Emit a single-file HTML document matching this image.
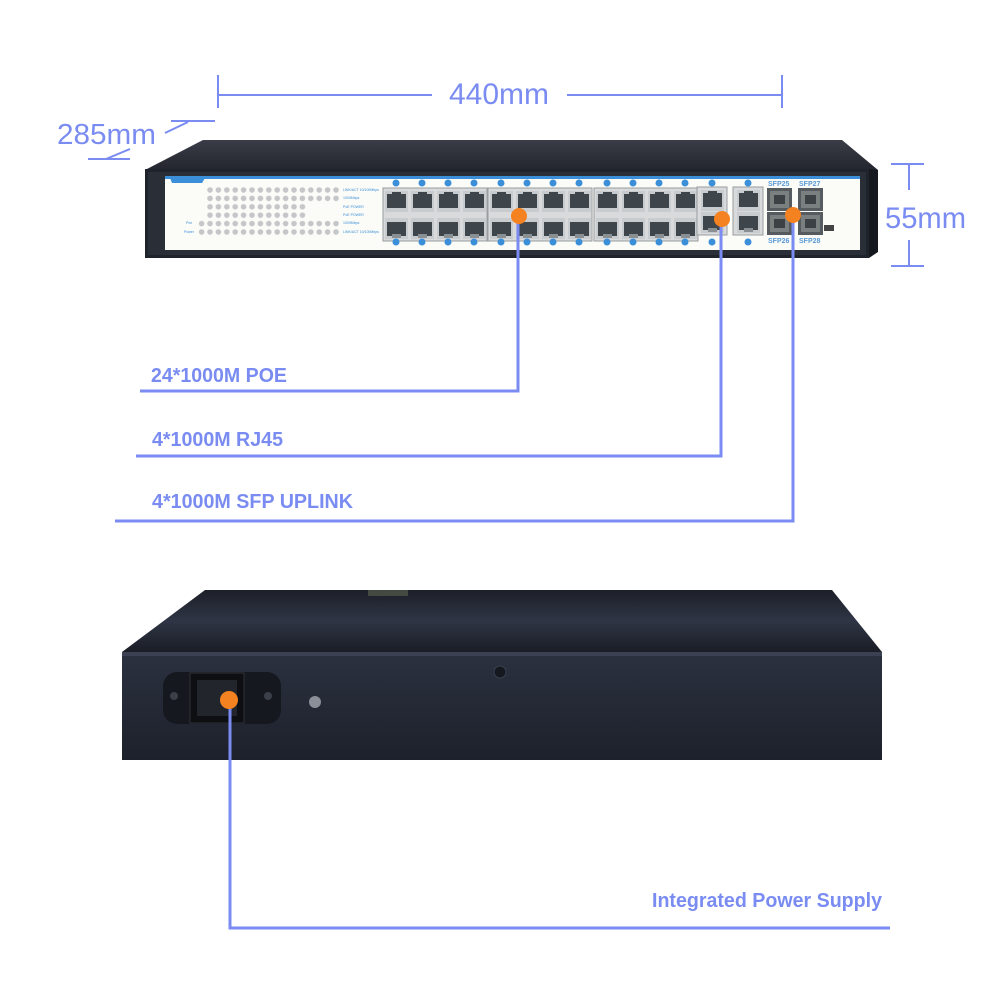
<!DOCTYPE html>
<html><head><meta charset="utf-8"><style>
html,body{margin:0;padding:0;background:#fff;width:1000px;height:1000px;overflow:hidden}
svg{display:block}
</style></head><body>
<svg width="1000" height="1000" viewBox="0 0 1000 1000" xmlns="http://www.w3.org/2000/svg" font-family="Liberation Sans, sans-serif">
<defs>
<linearGradient id="lid" x1="0" y1="0" x2="0" y2="1"><stop offset="0" stop-color="#3a3d47"/><stop offset="1" stop-color="#23262e"/></linearGradient>
<linearGradient id="rlid" x1="0" y1="0" x2="0" y2="1"><stop offset="0" stop-color="#1c1f28"/><stop offset="0.5" stop-color="#2f3545"/><stop offset="1" stop-color="#1a1d25"/></linearGradient>
<linearGradient id="rface" x1="0" y1="0" x2="0" y2="1"><stop offset="0" stop-color="#2c3140"/><stop offset="1" stop-color="#1d212b"/></linearGradient>
<g id="port"><rect width="23" height="21" fill="#c9ccce"/><rect x="2" y="3" width="19" height="14" fill="#3e464b"/><rect x="7" y="1" width="9" height="4" fill="#3e464b"/></g>
<g id="portd"><rect width="23" height="21" fill="#c9ccce"/><rect x="2" y="4" width="19" height="14" fill="#3e464b"/><rect x="7" y="16" width="9" height="4" fill="#8a8f93"/></g>
<g id="g4"><rect x="-2" y="-3" width="104" height="53" fill="#d8dadb" stroke="#9a9ea2" stroke-width="1"/>
<use href="#port" x="0" y="0"/><use href="#port" x="26" y="0"/><use href="#port" x="52" y="0"/><use href="#port" x="78" y="0"/>
<use href="#portd" x="0" y="27"/><use href="#portd" x="26" y="27"/><use href="#portd" x="52" y="27"/><use href="#portd" x="78" y="27"/></g>
<g id="nums"><circle cx="11" cy="0" r="3.5" fill="#3a8fd8"/><circle cx="37" cy="0" r="3.5" fill="#3a8fd8"/><circle cx="63" cy="0" r="3.5" fill="#3a8fd8"/><circle cx="89" cy="0" r="3.5" fill="#3a8fd8"/></g>
<pattern id="leds" x="206" y="186" width="8.4" height="8.4" patternUnits="userSpaceOnUse"><circle cx="4" cy="4" r="2.8" fill="#c4c6c8"/></pattern>
<g id="sfp"><rect width="25" height="23" fill="#555b5e"/><rect x="3" y="3" width="19" height="17" fill="#7a7f80"/><rect x="7" y="7" width="11" height="9" fill="#3b4144"/></g>
</defs>

<!-- dimension lines -->
<g stroke="#7a8cf2" stroke-width="2" fill="none">
<line x1="218" y1="75" x2="218" y2="108"/><line x1="218" y1="95" x2="432" y2="95"/>
<line x1="567" y1="95" x2="782" y2="95"/><line x1="782" y1="75" x2="782" y2="108"/>
<line x1="171" y1="121" x2="215" y2="121"/><line x1="165" y1="133" x2="188" y2="122"/>
<line x1="88" y1="159" x2="130" y2="159"/><line x1="106" y1="159" x2="130" y2="149"/>
<line x1="891" y1="164" x2="924" y2="164"/><line x1="909" y1="164" x2="909" y2="190"/>
<line x1="909" y1="240" x2="909" y2="266"/><line x1="891" y1="266" x2="924" y2="266"/>
</g>
<text x="499" y="104" font-size="30" fill="#7a8cf2" text-anchor="middle">440mm</text>
<text x="57" y="144" font-size="29" fill="#7a8cf2" textLength="99" lengthAdjust="spacingAndGlyphs">285mm</text>
<text x="885" y="228" font-size="30" fill="#7a8cf2" textLength="81" lengthAdjust="spacingAndGlyphs">55mm</text>

<!-- top switch -->
<polygon points="203,140 842,140 878,170 145,170" fill="url(#lid)"/>
<rect x="145" y="169" width="724" height="89" fill="#1f232b"/>
<polygon points="869,169 878,170 878,252 869,258" fill="#15181e"/>
<rect x="148" y="172" width="718" height="83" fill="#2a2e36"/>
<rect x="165" y="176" width="695" height="74" fill="#fbfbf7"/>
<rect x="165" y="176" width="695" height="3" fill="#3a8fd8"/>
<polygon points="170,178 205,178 202,183 172,183" fill="#3a8fd8"/>
<rect x="206" y="186" width="135" height="17" fill="url(#leds)"/>
<rect x="206" y="203" width="101" height="17" fill="url(#leds)"/>
<rect x="197" y="220" width="144" height="17" fill="url(#leds)"/>
<g font-size="3.5" fill="#3a8fd8"><text x="343" y="191">LINK/ACT 10/100Mbps</text><text x="343" y="199">1000Mbps</text><text x="343" y="208">PoE POWER</text><text x="343" y="216">PoE POWER</text><text x="343" y="224">1000Mbps</text><text x="343" y="233">LINK/ACT 10/100Mbps</text><text x="186" y="224">Pwr</text><text x="184" y="233">Power</text></g>
<use href="#g4" x="385" y="191"/><use href="#g4" x="490" y="191"/><use href="#g4" x="596" y="191"/>
<use href="#nums" x="385" y="183"/><use href="#nums" x="490" y="183"/><use href="#nums" x="596" y="183"/>
<use href="#nums" x="385" y="242"/><use href="#nums" x="490" y="242"/><use href="#nums" x="596" y="242"/>
<rect x="697" y="187" width="30" height="48" fill="#d8dadb" stroke="#9a9ea2"/>
<rect x="733" y="187" width="30" height="48" fill="#d8dadb" stroke="#9a9ea2"/>
<use href="#port" x="701" y="190"/><use href="#portd" x="701" y="212"/>
<use href="#port" x="737" y="190"/><use href="#portd" x="737" y="212"/>
<circle cx="712" cy="183" r="3.5" fill="#3a8fd8"/><circle cx="748" cy="183" r="3.5" fill="#3a8fd8"/>
<circle cx="712" cy="242" r="3.5" fill="#3a8fd8"/><circle cx="748" cy="242" r="3.5" fill="#3a8fd8"/>
<use href="#sfp" x="767" y="188"/><use href="#sfp" x="767" y="212"/>
<use href="#sfp" x="798" y="188"/><use href="#sfp" x="798" y="212"/>
<rect x="824" y="225" width="10" height="6" fill="#444"/>
<g font-size="7" fill="#5a9ad8" font-weight="bold"><text x="768" y="186">SFP25</text><text x="799" y="186">SFP27</text><text x="768" y="243">SFP26</text><text x="799" y="243">SFP28</text></g>

<!-- top connectors -->
<g stroke="#7a8cf2" stroke-width="3" fill="none">
<polyline points="518,216 518,391 140,391"/>
<polyline points="721,219 721,456 136,456"/>
<polyline points="793,215 793,521 115,521"/>
</g>
<circle cx="519" cy="216" r="8" fill="#f58220"/>
<circle cx="722" cy="219" r="8" fill="#f58220"/>
<circle cx="793" cy="215" r="8" fill="#f58220"/>
<g font-size="20" font-weight="bold" fill="#7a8cf2">
<text x="151" y="382" textLength="136" lengthAdjust="spacingAndGlyphs">24*1000M POE</text>
<text x="152" y="446" textLength="131" lengthAdjust="spacingAndGlyphs">4*1000M RJ45</text>
<text x="152" y="508" textLength="201" lengthAdjust="spacingAndGlyphs">4*1000M SFP UPLINK</text>
<text x="652" y="907" textLength="230" lengthAdjust="spacingAndGlyphs">Integrated Power Supply</text>
</g>

<!-- rear switch -->
<polygon points="205,590 832,590 882,652 122,652" fill="url(#rlid)"/>
<rect x="368" y="590" width="40" height="6" fill="#5e6450" opacity="0.6"/>
<rect x="122" y="652" width="760" height="108" fill="url(#rface)"/>
<rect x="122" y="652" width="760" height="4" fill="#3b4152"/>
<rect x="163" y="672" width="118" height="52" rx="14" fill="#15181e"/>
<rect x="190" y="673" width="54" height="50" fill="#0d0f13" stroke="#2e323a"/>
<rect x="197" y="680" width="40" height="36" fill="#22262c"/>
<circle cx="174" cy="696" r="4" fill="#3a3f48"/><circle cx="268" cy="696" r="4" fill="#3a3f48"/>
<circle cx="500" cy="672" r="6" fill="#15181e" stroke="#3b4150"/>
<circle cx="315" cy="702" r="6" fill="#8a8f98"/>
<polyline points="230,700 230,928 890,928" stroke="#7a8cf2" stroke-width="3" fill="none"/>
<circle cx="229" cy="700" r="9" fill="#f58220"/>
</svg>
</body></html>
